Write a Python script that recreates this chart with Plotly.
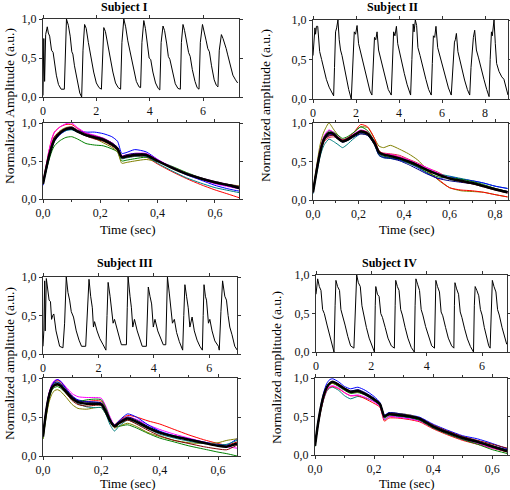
import plotly.graph_objects as go

W, H = 510, 490
FONT = "Liberation Serif"

# ---------------- Data: top panels (raw pulse trains) ----------------
s1_top_t = [0.00, 0.03, 0.06, 0.10, 0.16, 0.20, 0.25, 0.32, 0.38, 0.42, 0.50, 0.58, 0.68, 0.80,
            0.84, 0.88, 0.95, 1.02, 1.08, 1.12, 1.18, 1.28, 1.38, 1.45,
            1.50, 1.56, 1.62, 1.70, 1.76, 1.80, 1.90, 2.00, 2.10, 2.19,
            2.23, 2.28, 2.34, 2.42, 2.48, 2.53, 2.62, 2.72, 2.82, 2.91,
            2.96, 3.03, 3.10, 3.18, 3.24, 3.30, 3.40, 3.50, 3.60, 3.66,
            3.71, 3.78, 3.84, 3.92, 3.98, 4.04, 4.12, 4.22, 4.32, 4.38,
            4.43, 4.50, 4.56, 4.64, 4.70, 4.76, 4.86, 4.96, 5.06, 5.15,
            5.19, 5.25, 5.31, 5.40, 5.46, 5.52, 5.60, 5.70, 5.78, 5.85,
            5.90, 5.98, 6.04, 6.12, 6.18, 6.24, 6.32, 6.42, 6.50, 6.56,
            6.61, 6.69, 6.75, 6.82, 6.87, 6.92, 7.02, 7.12, 7.22, 7.30]
s1_top_v = [0.02, 0.75, 0.20, 0.80, 0.90, 0.82, 0.78, 0.60, 0.57, 0.45, 0.28, 0.16, 0.10, 0.10,
            0.70, 1.00, 0.92, 0.78, 0.58, 0.55, 0.40, 0.20, 0.05, 0.00,
            0.60, 0.93, 0.88, 0.70, 0.58, 0.52, 0.32, 0.18, 0.12, 0.10,
            0.60, 0.89, 0.84, 0.68, 0.55, 0.50, 0.32, 0.18, 0.12, 0.10,
            0.70, 1.00, 0.90, 0.72, 0.62, 0.55, 0.35, 0.20, 0.13, 0.12,
            0.70, 0.98, 0.88, 0.65, 0.50, 0.48, 0.32, 0.18, 0.11, 0.09,
            0.70, 0.91, 0.85, 0.68, 0.52, 0.48, 0.30, 0.17, 0.11, 0.10,
            0.70, 0.93, 0.85, 0.70, 0.57, 0.52, 0.35, 0.20, 0.12, 0.10,
            0.70, 0.93, 0.85, 0.72, 0.62, 0.58, 0.40, 0.22, 0.15, 0.13,
            0.60, 0.80, 0.75, 0.68, 0.62, 0.55, 0.40, 0.28, 0.22, 0.18]

s2_top_t = [0.00, 0.06, 0.09, 0.12, 0.16, 0.22, 0.27, 0.31, 0.40, 0.50, 0.62, 0.75, 0.88, 0.96,
            1.00, 1.05, 1.10, 1.16, 1.22, 1.28, 1.35, 1.45, 1.55, 1.66, 1.78,
            1.85, 1.92, 1.98, 2.05, 2.12, 2.18, 2.30, 2.42, 2.55, 2.65, 2.74,
            2.80, 2.86, 2.92, 2.98, 3.05, 3.14, 3.25, 3.38, 3.50, 3.64,
            3.69, 3.75, 3.81, 3.88, 3.94, 4.00, 4.12, 4.25, 4.38, 4.54,
            4.60, 4.66, 4.70, 4.76, 4.82, 4.88, 4.98, 5.10, 5.25, 5.38, 5.50,
            5.55, 5.60, 5.66, 5.72, 5.80, 5.90, 6.02, 6.15, 6.30, 6.43,
            6.50, 6.58, 6.62, 6.67, 6.74, 6.82, 6.92, 7.05, 7.18, 7.29,
            7.35, 7.42, 7.46, 7.52, 7.60, 7.70, 7.82, 7.95, 8.08, 8.19,
            8.24, 8.30, 8.34, 8.42, 8.48, 8.54, 8.65, 8.78, 8.88, 8.98, 9.07]
s2_top_v = [0.55, 0.85, 0.90, 0.82, 0.92, 0.92, 0.75, 0.60, 0.50, 0.38, 0.25, 0.15, 0.08, 0.04,
            0.40, 0.85, 0.90, 1.00, 0.75, 0.62, 0.55, 0.40, 0.25, 0.12, 0.00,
            0.40, 0.85, 0.82, 0.93, 0.70, 0.63, 0.48, 0.33, 0.18, 0.10, 0.05,
            0.40, 0.78, 0.75, 0.85, 0.62, 0.52, 0.40, 0.25, 0.12, 0.05,
            0.45, 0.85, 0.80, 0.92, 0.70, 0.62, 0.48, 0.32, 0.18, 0.05,
            0.50, 0.95, 0.85, 1.00, 0.93, 0.65, 0.55, 0.40, 0.25, 0.12, 0.05,
            0.45, 0.80, 0.78, 0.92, 0.65, 0.55, 0.42, 0.28, 0.14, 0.05,
            0.40, 0.72, 0.75, 0.83, 0.60, 0.50, 0.38, 0.24, 0.12, 0.05,
            0.40, 0.72, 0.78, 0.87, 0.62, 0.52, 0.38, 0.25, 0.12, 0.03,
            0.50, 0.85, 0.80, 1.00, 0.70, 0.45, 0.35, 0.28, 0.25, 0.15, 0.05]

s3_top_t = [0.00, 0.03, 0.06, 0.08, 0.12, 0.17, 0.22, 0.27, 0.31, 0.35, 0.39, 0.47, 0.54, 0.60, 0.72,
            0.78, 0.84, 0.90, 0.96, 1.02, 1.10, 1.20, 1.30, 1.39, 1.54,
            1.60, 1.66, 1.72, 1.78, 1.82, 1.86, 1.95, 2.05, 2.17, 2.27,
            2.31, 2.35, 2.42, 2.47, 2.53, 2.58, 2.68, 2.78, 2.83, 3.01,
            3.04, 3.07, 3.14, 3.19, 3.24, 3.30, 3.40, 3.50, 3.58, 3.73,
            3.76, 3.80, 3.86, 3.92, 3.98, 4.04, 4.14, 4.24, 4.34, 4.43,
            4.46, 4.49, 4.56, 4.60, 4.67, 4.74, 4.82, 4.92, 5.00, 5.04,
            5.08, 5.12, 5.18, 5.24, 5.30, 5.38, 5.46, 5.56, 5.66, 5.75,
            5.78, 5.81, 5.86, 5.90, 5.97, 6.02, 6.10, 6.20, 6.33, 6.36,
            6.42, 6.48, 6.56, 6.62, 6.68, 6.74, 6.82, 6.92, 7.01]
s3_top_v = [0.10, 0.30, 0.95, 0.30, 0.98, 0.85, 0.70, 0.68, 0.45, 0.50, 0.52, 0.30, 0.18, 0.10, 0.08,
            0.40, 1.00, 0.80, 0.70, 0.55, 0.48, 0.30, 0.18, 0.10, 0.10,
            0.50, 0.97, 0.75, 0.60, 0.35, 0.42, 0.30, 0.20, 0.12, 0.05,
            0.50, 0.93, 0.75, 0.60, 0.40, 0.45, 0.30, 0.18, 0.12, 0.12,
            0.60, 1.00, 0.75, 0.60, 0.35, 0.45, 0.30, 0.18, 0.10, 0.10,
            0.50, 0.87, 0.75, 0.65, 0.35, 0.45, 0.30, 0.20, 0.12, 0.12,
            0.60, 1.00, 0.78, 0.65, 0.40, 0.45, 0.28, 0.16, 0.10, 0.05,
            0.50, 0.90, 0.75, 0.60, 0.35, 0.48, 0.30, 0.18, 0.10, 0.05,
            0.50, 0.90, 0.75, 0.70, 0.40, 0.45, 0.30, 0.17, 0.10, 0.05,
            0.55, 0.95, 0.75, 0.70, 0.50, 0.35, 0.25, 0.10, 0.05]

s4_top_t = [0.00, 0.03, 0.06, 0.12, 0.18, 0.24, 0.30, 0.40, 0.50, 0.58, 0.65,
            0.69, 0.72, 0.78, 0.85, 0.90, 0.96, 1.05, 1.15, 1.25, 1.37,
            1.42, 1.47, 1.53, 1.60, 1.66, 1.72, 1.82, 1.92, 2.02, 2.11,
            2.14, 2.16, 2.22, 2.28, 2.34, 2.40, 2.50, 2.60, 2.72, 2.83,
            2.86, 2.88, 2.94, 3.00, 3.06, 3.12, 3.22, 3.32, 3.44, 3.55,
            3.58, 3.61, 3.67, 3.74, 3.80, 3.86, 3.96, 4.06, 4.18, 4.28,
            4.30, 4.33, 4.39, 4.46, 4.52, 4.58, 4.68, 4.78, 4.90, 4.98,
            5.00, 5.02, 5.08, 5.15, 5.21, 5.27, 5.37, 5.47, 5.58, 5.69,
            5.72, 5.75, 5.81, 5.88, 5.94, 6.00, 6.08, 6.16, 6.24, 6.29,
            6.33, 6.37, 6.43, 6.50, 6.56, 6.62, 6.72, 6.82, 6.89]
s4_top_v = [0.75, 0.85, 0.95, 0.85, 0.80, 0.55, 0.50, 0.35, 0.20, 0.10, 0.00,
            0.60, 0.93, 0.85, 0.80, 0.55, 0.48, 0.35, 0.20, 0.08, 0.05,
            0.70, 1.00, 0.90, 0.85, 0.60, 0.48, 0.32, 0.18, 0.07, 0.00,
            0.60, 0.85, 0.75, 0.72, 0.50, 0.45, 0.32, 0.18, 0.08, 0.05,
            0.60, 0.93, 0.85, 0.80, 0.55, 0.48, 0.32, 0.18, 0.06, 0.00,
            0.60, 0.95, 0.88, 0.80, 0.55, 0.48, 0.33, 0.20, 0.08, 0.05,
            0.60, 0.93, 0.85, 0.78, 0.52, 0.47, 0.32, 0.18, 0.08, 0.05,
            0.60, 0.90, 0.82, 0.75, 0.52, 0.45, 0.30, 0.17, 0.07, 0.00,
            0.60, 0.85, 0.80, 0.73, 0.55, 0.48, 0.32, 0.18, 0.08, 0.05,
            0.60, 0.93, 0.85, 0.78, 0.55, 0.48, 0.32, 0.18, 0.10]

# ---------------- Data: bottom panels (normalized single beats) ----------------
series_colors = {"red": "#FF0000", "blue": "#0000FF", "green": "#008000", "olive": "#808000",
                 "teal": "#008080", "magenta": "#FF00FF", "darkred": "#800000",
                 "navy": "#000080", "purple": "#800080", "crimson": "#E0204A"}

s1_t = [0, 0.01, 0.02, 0.03, 0.04, 0.06, 0.08, 0.10, 0.12, 0.15, 0.18, 0.21, 0.24, 0.26,
        0.275, 0.29, 0.32, 0.36, 0.40, 0.45, 0.50, 0.55, 0.60, 0.65, 0.69]
s1_lines = {
    "red":     [0.22, 0.42, 0.62, 0.78, 0.88, 0.95, 0.98, 0.98, 0.93, 0.86, 0.83, 0.79, 0.72, 0.65, 0.55, 0.55, 0.56, 0.55, 0.46, 0.36, 0.27, 0.19, 0.12, 0.06, 0.01],
    "blue":    [0.18, 0.36, 0.52, 0.66, 0.76, 0.85, 0.90, 0.92, 0.90, 0.88, 0.88, 0.86, 0.82, 0.76, 0.60, 0.61, 0.65, 0.62, 0.52, 0.41, 0.32, 0.25, 0.18, 0.13, 0.10],
    "green":   [0.22, 0.36, 0.50, 0.62, 0.70, 0.77, 0.81, 0.82, 0.79, 0.73, 0.71, 0.70, 0.66, 0.62, 0.50, 0.51, 0.53, 0.55, 0.50, 0.43, 0.35, 0.28, 0.22, 0.19, 0.16],
    "olive":   [0.20, 0.40, 0.58, 0.72, 0.82, 0.90, 0.94, 0.95, 0.90, 0.84, 0.80, 0.74, 0.68, 0.62, 0.47, 0.48, 0.50, 0.52, 0.49, 0.42, 0.34, 0.27, 0.22, 0.19, 0.17],
    "teal":    [0.20, 0.38, 0.55, 0.68, 0.78, 0.86, 0.90, 0.91, 0.88, 0.83, 0.80, 0.77, 0.71, 0.65, 0.53, 0.54, 0.56, 0.56, 0.47, 0.37, 0.28, 0.21, 0.15, 0.11, 0.08],
    "magenta": [0.22, 0.42, 0.62, 0.78, 0.88, 0.95, 0.99, 1.00, 0.94, 0.87, 0.84, 0.80, 0.74, 0.68, 0.57, 0.58, 0.60, 0.60, 0.52, 0.42, 0.33, 0.26, 0.20, 0.16, 0.13],
    "darkred": [0.20, 0.40, 0.58, 0.72, 0.82, 0.89, 0.93, 0.94, 0.89, 0.83, 0.79, 0.76, 0.70, 0.64, 0.54, 0.55, 0.57, 0.57, 0.50, 0.41, 0.33, 0.27, 0.22, 0.18, 0.15],
    "navy":    [0.19, 0.37, 0.54, 0.67, 0.77, 0.86, 0.91, 0.92, 0.88, 0.84, 0.82, 0.79, 0.74, 0.68, 0.56, 0.58, 0.60, 0.59, 0.51, 0.42, 0.33, 0.27, 0.21, 0.17, 0.13],
    "purple":  [0.21, 0.39, 0.57, 0.70, 0.80, 0.88, 0.93, 0.95, 0.91, 0.86, 0.83, 0.80, 0.74, 0.67, 0.56, 0.57, 0.59, 0.59, 0.51, 0.42, 0.34, 0.28, 0.23, 0.19, 0.16],
}
s1_mean = [0.20, 0.38, 0.55, 0.68, 0.78, 0.87, 0.92, 0.93, 0.89, 0.84, 0.81, 0.78, 0.72, 0.66, 0.55, 0.56, 0.58, 0.58, 0.50, 0.41, 0.33, 0.27, 0.22, 0.18, 0.14]

s2_t = [0, 0.01, 0.02, 0.03, 0.04, 0.05, 0.07, 0.09, 0.11, 0.13, 0.15, 0.18, 0.21, 0.24, 0.27,
        0.29, 0.31, 0.34, 0.38, 0.42, 0.46, 0.50, 0.55, 0.60, 0.65, 0.70, 0.75, 0.80, 0.855]
s2_lines = {
    "olive":   [0.10, 0.32, 0.52, 0.70, 0.82, 0.90, 1.00, 0.92, 0.84, 0.78, 0.80, 0.88, 0.95, 0.94, 0.80, 0.70, 0.68, 0.71, 0.66, 0.60, 0.52, 0.40, 0.26, 0.16, 0.12, 0.11, 0.10, 0.07, 0.04],
    "red":     [0.12, 0.30, 0.47, 0.62, 0.73, 0.80, 0.85, 0.85, 0.80, 0.77, 0.80, 0.88, 0.98, 0.95, 0.80, 0.64, 0.60, 0.59, 0.56, 0.52, 0.46, 0.38, 0.27, 0.16, 0.13, 0.12, 0.10, 0.07, 0.04],
    "crimson": [0.10, 0.28, 0.44, 0.58, 0.69, 0.76, 0.81, 0.82, 0.80, 0.78, 0.79, 0.83, 0.86, 0.84, 0.74, 0.63, 0.61, 0.60, 0.58, 0.53, 0.48, 0.42, 0.36, 0.28, 0.24, 0.22, 0.19, 0.15, 0.11],
    "teal":    [0.08, 0.25, 0.40, 0.55, 0.65, 0.72, 0.79, 0.76, 0.72, 0.68, 0.72, 0.80, 0.86, 0.84, 0.72, 0.58, 0.55, 0.54, 0.52, 0.48, 0.44, 0.38, 0.34, 0.31, 0.28, 0.25, 0.22, 0.18, 0.15],
    "blue":    [0.10, 0.28, 0.45, 0.60, 0.72, 0.80, 0.86, 0.84, 0.80, 0.76, 0.78, 0.84, 0.88, 0.86, 0.74, 0.60, 0.56, 0.55, 0.52, 0.48, 0.42, 0.35, 0.28, 0.30, 0.27, 0.25, 0.22, 0.18, 0.15],
    "green":   [0.10, 0.30, 0.48, 0.63, 0.75, 0.83, 0.90, 0.88, 0.84, 0.80, 0.82, 0.88, 0.95, 0.90, 0.76, 0.60, 0.57, 0.55, 0.53, 0.48, 0.43, 0.36, 0.30, 0.29, 0.27, 0.24, 0.20, 0.15, 0.11],
    "magenta": [0.10, 0.30, 0.48, 0.64, 0.76, 0.84, 0.91, 0.88, 0.82, 0.78, 0.80, 0.86, 0.91, 0.88, 0.76, 0.63, 0.60, 0.59, 0.56, 0.52, 0.47, 0.42, 0.35, 0.28, 0.25, 0.22, 0.18, 0.14, 0.10],
    "navy":    [0.10, 0.27, 0.43, 0.58, 0.70, 0.78, 0.84, 0.84, 0.79, 0.75, 0.77, 0.82, 0.86, 0.84, 0.72, 0.58, 0.55, 0.54, 0.51, 0.46, 0.40, 0.34, 0.28, 0.25, 0.23, 0.21, 0.18, 0.14, 0.11],
    "darkred": [0.10, 0.28, 0.44, 0.59, 0.71, 0.78, 0.83, 0.84, 0.81, 0.78, 0.80, 0.85, 0.90, 0.88, 0.76, 0.63, 0.60, 0.58, 0.55, 0.50, 0.46, 0.40, 0.34, 0.28, 0.24, 0.21, 0.17, 0.13, 0.09],
}
s2_mean = [0.10, 0.28, 0.45, 0.60, 0.72, 0.80, 0.87, 0.86, 0.80, 0.76, 0.78, 0.84, 0.89, 0.86, 0.74, 0.62, 0.59, 0.57, 0.54, 0.50, 0.45, 0.39, 0.33, 0.28, 0.25, 0.22, 0.18, 0.14, 0.10]

s3_t = [0, 0.01, 0.02, 0.03, 0.04, 0.05, 0.06, 0.08, 0.10, 0.12, 0.15, 0.18, 0.20, 0.215,
        0.23, 0.245, 0.26, 0.29, 0.32, 0.36, 0.40, 0.45, 0.50, 0.55, 0.60, 0.63, 0.665]
s3_lines = {
    "magenta": [0.25, 0.58, 0.80, 0.92, 0.97, 0.98, 0.96, 0.88, 0.80, 0.76, 0.75, 0.75, 0.74, 0.64, 0.50, 0.40, 0.44, 0.50, 0.47, 0.40, 0.34, 0.28, 0.23, 0.18, 0.14, 0.12, 0.10],
    "red":     [0.25, 0.56, 0.78, 0.90, 0.95, 0.97, 0.95, 0.86, 0.77, 0.71, 0.70, 0.71, 0.70, 0.60, 0.46, 0.40, 0.45, 0.52, 0.50, 0.45, 0.41, 0.34, 0.27, 0.21, 0.16, 0.14, 0.18],
    "blue":    [0.25, 0.56, 0.78, 0.90, 0.96, 0.98, 0.96, 0.86, 0.77, 0.72, 0.70, 0.69, 0.68, 0.59, 0.47, 0.39, 0.45, 0.54, 0.50, 0.40, 0.32, 0.26, 0.22, 0.18, 0.15, 0.14, 0.22],
    "green":   [0.22, 0.50, 0.72, 0.84, 0.88, 0.89, 0.87, 0.80, 0.72, 0.70, 0.72, 0.73, 0.72, 0.62, 0.48, 0.38, 0.38, 0.40, 0.36, 0.29, 0.23, 0.18, 0.13, 0.09, 0.05, 0.03, 0.00],
    "olive":   [0.22, 0.48, 0.68, 0.79, 0.84, 0.85, 0.83, 0.75, 0.66, 0.61, 0.60, 0.62, 0.62, 0.54, 0.44, 0.36, 0.38, 0.42, 0.38, 0.30, 0.25, 0.20, 0.17, 0.16, 0.17, 0.20, 0.22],
    "teal":    [0.24, 0.54, 0.76, 0.88, 0.93, 0.94, 0.92, 0.84, 0.74, 0.67, 0.63, 0.62, 0.62, 0.54, 0.40, 0.32, 0.38, 0.46, 0.42, 0.35, 0.28, 0.23, 0.19, 0.16, 0.14, 0.15, 0.20],
    "darkred": [0.25, 0.54, 0.75, 0.86, 0.90, 0.91, 0.89, 0.80, 0.71, 0.66, 0.64, 0.65, 0.65, 0.56, 0.44, 0.37, 0.41, 0.46, 0.41, 0.33, 0.26, 0.20, 0.16, 0.12, 0.09, 0.08, 0.14],
    "navy":    [0.26, 0.57, 0.79, 0.90, 0.94, 0.95, 0.93, 0.84, 0.76, 0.71, 0.69, 0.69, 0.68, 0.59, 0.47, 0.40, 0.44, 0.50, 0.46, 0.38, 0.31, 0.25, 0.21, 0.17, 0.13, 0.12, 0.15],
}
s3_mean = [0.25, 0.55, 0.76, 0.87, 0.91, 0.92, 0.90, 0.82, 0.74, 0.69, 0.67, 0.67, 0.66, 0.57, 0.45, 0.38, 0.42, 0.48, 0.44, 0.36, 0.30, 0.25, 0.21, 0.17, 0.13, 0.12, 0.16]

s4_t = [0, 0.01, 0.02, 0.03, 0.04, 0.05, 0.06, 0.08, 0.10, 0.12, 0.145, 0.17, 0.20, 0.22,
        0.235, 0.25, 0.28, 0.32, 0.355, 0.40, 0.45, 0.50, 0.55, 0.60, 0.65]
s4_lines = {
    "blue":    [0.12, 0.42, 0.65, 0.82, 0.93, 0.98, 0.99, 0.95, 0.89, 0.86, 0.88, 0.84, 0.76, 0.68, 0.52, 0.55, 0.54, 0.52, 0.49, 0.40, 0.32, 0.25, 0.21, 0.15, 0.08],
    "teal":    [0.12, 0.38, 0.58, 0.73, 0.83, 0.87, 0.88, 0.84, 0.77, 0.73, 0.76, 0.74, 0.70, 0.64, 0.46, 0.50, 0.50, 0.48, 0.45, 0.36, 0.28, 0.21, 0.16, 0.10, 0.04],
    "red":     [0.12, 0.38, 0.58, 0.74, 0.84, 0.88, 0.89, 0.86, 0.81, 0.77, 0.77, 0.73, 0.67, 0.62, 0.44, 0.48, 0.48, 0.46, 0.43, 0.34, 0.26, 0.19, 0.14, 0.09, 0.04],
    "magenta": [0.12, 0.39, 0.60, 0.75, 0.85, 0.89, 0.90, 0.87, 0.81, 0.77, 0.78, 0.75, 0.69, 0.63, 0.46, 0.50, 0.49, 0.47, 0.44, 0.35, 0.27, 0.20, 0.15, 0.09, 0.05],
    "green":   [0.11, 0.39, 0.61, 0.77, 0.87, 0.92, 0.93, 0.89, 0.84, 0.80, 0.81, 0.78, 0.71, 0.65, 0.48, 0.52, 0.51, 0.49, 0.45, 0.35, 0.27, 0.20, 0.14, 0.07, 0.02],
    "olive":   [0.12, 0.40, 0.62, 0.78, 0.88, 0.92, 0.93, 0.90, 0.85, 0.81, 0.82, 0.79, 0.73, 0.67, 0.50, 0.54, 0.54, 0.52, 0.48, 0.38, 0.30, 0.23, 0.18, 0.12, 0.06],
    "darkred": [0.13, 0.41, 0.63, 0.79, 0.89, 0.94, 0.95, 0.92, 0.87, 0.83, 0.84, 0.80, 0.73, 0.67, 0.51, 0.54, 0.53, 0.51, 0.48, 0.39, 0.31, 0.24, 0.19, 0.14, 0.09],
    "navy":    [0.12, 0.40, 0.62, 0.78, 0.88, 0.93, 0.95, 0.92, 0.86, 0.83, 0.85, 0.81, 0.74, 0.67, 0.51, 0.55, 0.54, 0.51, 0.48, 0.38, 0.30, 0.23, 0.18, 0.12, 0.07],
}
s4_mean = [0.12, 0.40, 0.62, 0.78, 0.88, 0.93, 0.95, 0.91, 0.86, 0.82, 0.83, 0.79, 0.72, 0.66, 0.50, 0.53, 0.52, 0.50, 0.47, 0.37, 0.29, 0.22, 0.17, 0.11, 0.05]

titles = ["Subject I", "Subject II", "Subject III", "Subject IV"]
ytitles = ["Normalized Amplitude (a.u.)", "Normalized amplitude (a.u.)",
           "Normalized amplitude (a.u.)", "Normalized amplitude (a.u.)"]
xtitle = "Time (sec)"

# ---------------- Layout geometry (pixels) ----------------
# (x0, x1, ytop, ybottom, xmax)
top_boxes = [(43, 239, 19, 97, 7.35), (313, 508, 20, 99, 9.07),
             (43, 237, 277, 354, 7.0), (316, 507, 275, 352, 6.9)]
bot_boxes = [(43, 239, 123, 199, 0.684), (313, 508, 123, 200, 0.857),
             (43, 237, 378, 456, 0.665), (315, 507, 378, 455, 0.65)]
title_pos = [(124, 7), (392, 7), (125, 263), (389, 263)]
xtitle_pos = [(128, 229), (407, 229), (128, 483), (407, 483)]
ytitle_pos = [(9, 106), (265, 106), (9, 364), (276, 368)]

def dom_x(a, b):
    return [a / W, b / W]

def dom_y(top, bot):
    return [1 - bot / H, 1 - top / H]

tickfont = dict(family=FONT, size=12, color="#111")

fig = go.Figure()
layout = dict(width=W, height=H, margin=dict(l=0, r=0, t=0, b=0), autosize=False,
              paper_bgcolor="white", plot_bgcolor="white", showlegend=False,
              separators=",.", annotations=[])

def axis_common():
    return dict(showline=True, linecolor="#333", linewidth=1, mirror="ticks",
                ticks="outside", ticklen=3, tickcolor="#333", showgrid=False,
                zeroline=False, tickfont=tickfont, fixedrange=True, automargin=False)

tops = [(s1_top_t, s1_top_v), (s2_top_t, s2_top_v), (s3_top_t, s3_top_v), (s4_top_t, s4_top_v)]
bots = [(s1_t, s1_lines, s1_mean), (s2_t, s2_lines, s2_mean),
        (s3_t, s3_lines, s3_mean), (s4_t, s4_lines, s4_mean)]

def px(xp, yp):
    return xp / W, 1 - yp / H

for i in range(4):
    ax_top = 2 * i + 1
    ax_bot = 2 * i + 2
    # top panel
    x0, x1, yt, yb, xmax = top_boxes[i]
    xa = axis_common()
    xa.update(domain=dom_x(x0, x1), range=[0, xmax], dtick=2, tick0=0, tickformat="d",
              anchor="y%d" % ax_top)
    ya = axis_common()
    ya.update(domain=dom_y(yt, yb), range=[0, 1], dtick=0.5, tick0=0, tickformat=".1f",
              anchor="x%d" % ax_top)
    layout["xaxis%d" % ax_top] = xa
    layout["yaxis%d" % ax_top] = ya
    t, v = tops[i]
    fig.add_trace(go.Scatter(x=t, y=v, mode="lines", line=dict(color="black", width=1),
                             xaxis="x%d" % ax_top, yaxis="y%d" % ax_top, hoverinfo="skip"))
    tx, ty = px(*title_pos[i])
    layout["annotations"].append(dict(text="<b>%s</b>" % titles[i], xref="paper", yref="paper",
                                      x=tx, y=ty, showarrow=False,
                                      font=dict(family=FONT, size=12, color="black"),
                                      xanchor="center", yanchor="middle"))
    # bottom panel
    x0b, x1b, ytb, ybb, xmaxb = bot_boxes[i]
    xb = axis_common()
    xb.update(domain=dom_x(x0b, x1b), range=[0, xmaxb], dtick=0.2, tick0=0, tickformat=".1f",
              anchor="y%d" % ax_bot,
              minor=dict(dtick=0.1, ticks="outside", ticklen=2, tickcolor="#333"))
    yb_ax = axis_common()
    yb_ax.update(domain=dom_y(ytb, ybb), range=[0, 1], dtick=0.5, tick0=0, tickformat=".1f",
                 anchor="x%d" % ax_bot)
    layout["xaxis%d" % ax_bot] = xb
    layout["yaxis%d" % ax_bot] = yb_ax
    tb, lines, mean = bots[i]
    for name, vals in lines.items():
        fig.add_trace(go.Scatter(x=tb, y=vals, mode="lines",
                                 line=dict(color=series_colors[name], width=1, shape="spline", smoothing=0.6),
                                 xaxis="x%d" % ax_bot, yaxis="y%d" % ax_bot, hoverinfo="skip"))
    fig.add_trace(go.Scatter(x=tb, y=mean, mode="lines",
                             line=dict(color="black", width=2.5, shape="spline", smoothing=0.6),
                             xaxis="x%d" % ax_bot, yaxis="y%d" % ax_bot, hoverinfo="skip"))
    xx, xy = px(*xtitle_pos[i])
    layout["annotations"].append(dict(text=xtitle, xref="paper", yref="paper",
                                      x=xx, y=xy, showarrow=False,
                                      font=dict(family=FONT, size=13, color="black"),
                                      xanchor="center", yanchor="middle"))
    yx, yy = px(*ytitle_pos[i])
    layout["annotations"].append(dict(text=ytitles[i], xref="paper", yref="paper",
                                      x=yx, y=yy, textangle=-90, showarrow=False,
                                      font=dict(family=FONT, size=13.5, color="black"),
                                      xanchor="center", yanchor="middle"))

fig.update_layout(**layout)
fig.write_html("out.html", config={"displayModeBar": False},
               post_script="document.body.style.margin='0';document.body.style.overflow='hidden';")
